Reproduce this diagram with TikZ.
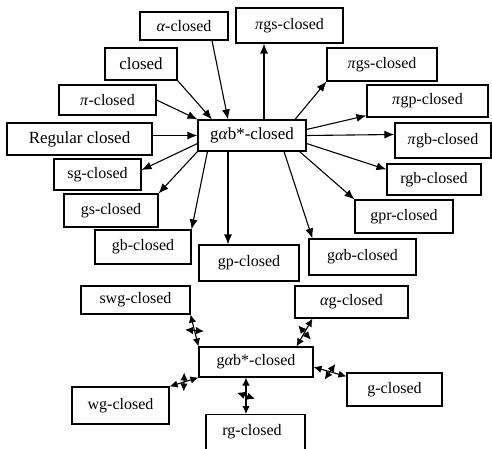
\documentclass[tikz,border=0pt]{standalone}
\usepackage{fontspec}
\setmainfont{Liberation Serif}
\usetikzlibrary{arrows.meta,decorations.markings}
\begin{document}
\begin{tikzpicture}[x=1pt,y=-1pt,
  box/.style={draw,line width=1.1pt,inner sep=0pt,font=\fontsize{16}{18}\selectfont},
  bigbox/.style={box,font=\fontsize{17}{19}\selectfont},
  arr/.style={line width=1.1pt,-{Latex[length=10pt,width=8pt]}},
  darr/.style={line width=1.1pt,{Latex[length=8pt,width=7.5pt]}-{Latex[length=8pt,width=7.5pt]}},
  notimp/.style={darr,postaction={decorate},decoration={markings,
     mark=at position 0.5 with {\draw[line width=1pt] (-3pt,-9pt) -- (3pt,9pt);}}}
]
\path[use as bounding box] (0,0) rectangle (492,449);
\fill[white] (0,0) rectangle (492,449);
\clip (0,0) rectangle (492,449);
% upper diagram
\node[box,minimum width=88pt,minimum height=28pt] (alpha) at (184,26) {\textit{α}-closed};
\node[box,minimum width=107pt,minimum height=35pt] (pigsa) at (289.5,25.5) {\textit{π}gs-closed};
\node[bigbox,minimum width=72pt,minimum height=32pt] (closed) at (141,64) {closed};
\node[box,minimum width=97pt,minimum height=30pt] (pic) at (107.5,100) {\textit{π}-closed};
\node[bigbox,minimum width=145pt,minimum height=32pt] (reg) at (79.5,139) {Regular closed};
\node[bigbox,minimum width=108pt,minimum height=31pt] (center) at (252,135.5) {g\textit{α}b*-closed};
\node[box,minimum width=110pt,minimum height=33pt] (pigsb) at (382,64.5) {\textit{π}gs-closed};
\node[box,minimum width=121pt,minimum height=32pt] (pigp) at (427.5,101) {\textit{π}gp-closed};
\node[box,minimum width=96pt,minimum height=35pt] (pigb) at (443,140.5) {\textit{π}gb-closed};
\node[box,minimum width=87pt,minimum height=31pt] (sg) at (97.5,174.5) {sg-closed};
\node[box,minimum width=94pt,minimum height=33pt] (gs) at (111,210.5) {gs-closed};
\node[box,minimum width=96pt,minimum height=34pt] (gb) at (143,247) {gb-closed};
\node[box,minimum width=100pt,minimum height=36pt] (gp) at (249,263) {gp-closed};
\node[box,minimum width=94pt,minimum height=31pt] (rgb) at (434,179.5) {rgb-closed};
\node[box,minimum width=98pt,minimum height=33pt] (gpr) at (404,216.5) {gpr-closed};
\node[box,minimum width=107pt,minimum height=36pt] (gab) at (362.5,257) {g\textit{α}b-closed};
% lower diagram
\node[box,minimum width=109pt,minimum height=28pt] (swg) at (135.5,300) {swg-closed};
\node[box,minimum width=113pt,minimum height=32pt] (ag) at (351.5,302) {\textit{α}g-closed};
\node[box,minimum width=114pt,minimum height=30pt] (centerb) at (256,362) {g\textit{α}b*-closed};
\node[box,minimum width=97pt,minimum height=37pt] (wg) at (120.5,405.5) {wg-closed};
\node[box,minimum width=99pt,minimum height=46pt,anchor=north] (rg) at (255.5,414) {};
\node[font=\fontsize{16}{18}\selectfont,inner sep=0pt] (rgt) at (252,432) {rg-closed};
\node[box,minimum width=95pt,minimum height=33pt] (g) at (394.5,389.5) {g-closed};
% arrows into center
\draw[arr] ([xshift=28pt]alpha.south) -- ([xshift=-24pt]center.north);
\draw[arr] (closed.south east) -- ([xshift=-40pt]center.north);
\draw[arr] (pic.east) -- (center.north west);
\draw[arr] (center.west -| reg.east) -- (center.west);
% arrows out of center
\coordinate (c1) at ([xshift=12pt]center.north);
\draw[arr] (c1) -- (c1 |- pigsa.south);
\draw[arr] ([xshift=43pt]center.north) -- (pigsb.south west);
\draw[arr] ([yshift=6pt]center.east) -- ([yshift=2pt]pigp.south west);
\draw[arr] (center.east) -- ([yshift=6pt]pigb.west);
\draw[arr] ([yshift=-8pt]center.east) -- ([yshift=10pt]rgb.west);
\draw[arr] ([xshift=-7pt]center.south east) -- (gpr.north west);
\draw[arr] ([xshift=32pt]center.south) -- ([xshift=4pt]gab.north west);
\coordinate (c2) at ([xshift=-24pt]center.south);
\draw[arr] (c2) -- (c2 |- gp.north);
\draw[arr] ([xshift=10pt]center.south west) -- (gb.north east);
\draw[arr] (center.south west) -- (gs.north east);
\draw[arr] ([yshift=-8pt]center.west) -- ([yshift=4.5pt]sg.east);
% lower double arrows with slash
\draw[notimp] (swg.south east) -- (centerb.north west);
\draw[notimp] ([xshift=18pt]ag.south west) -- ([xshift=-17pt]centerb.north east);
\draw[notimp] (wg.north east) -- (centerb.south west);
\coordinate (c3) at ([xshift=-10pt]centerb.south);
\draw[notimp] (c3) -- (c3 |- rg.north);
\draw[notimp] ([yshift=-5pt]centerb.east) -- ([yshift=-4pt]g.north west);
\end{tikzpicture}
\end{document}
